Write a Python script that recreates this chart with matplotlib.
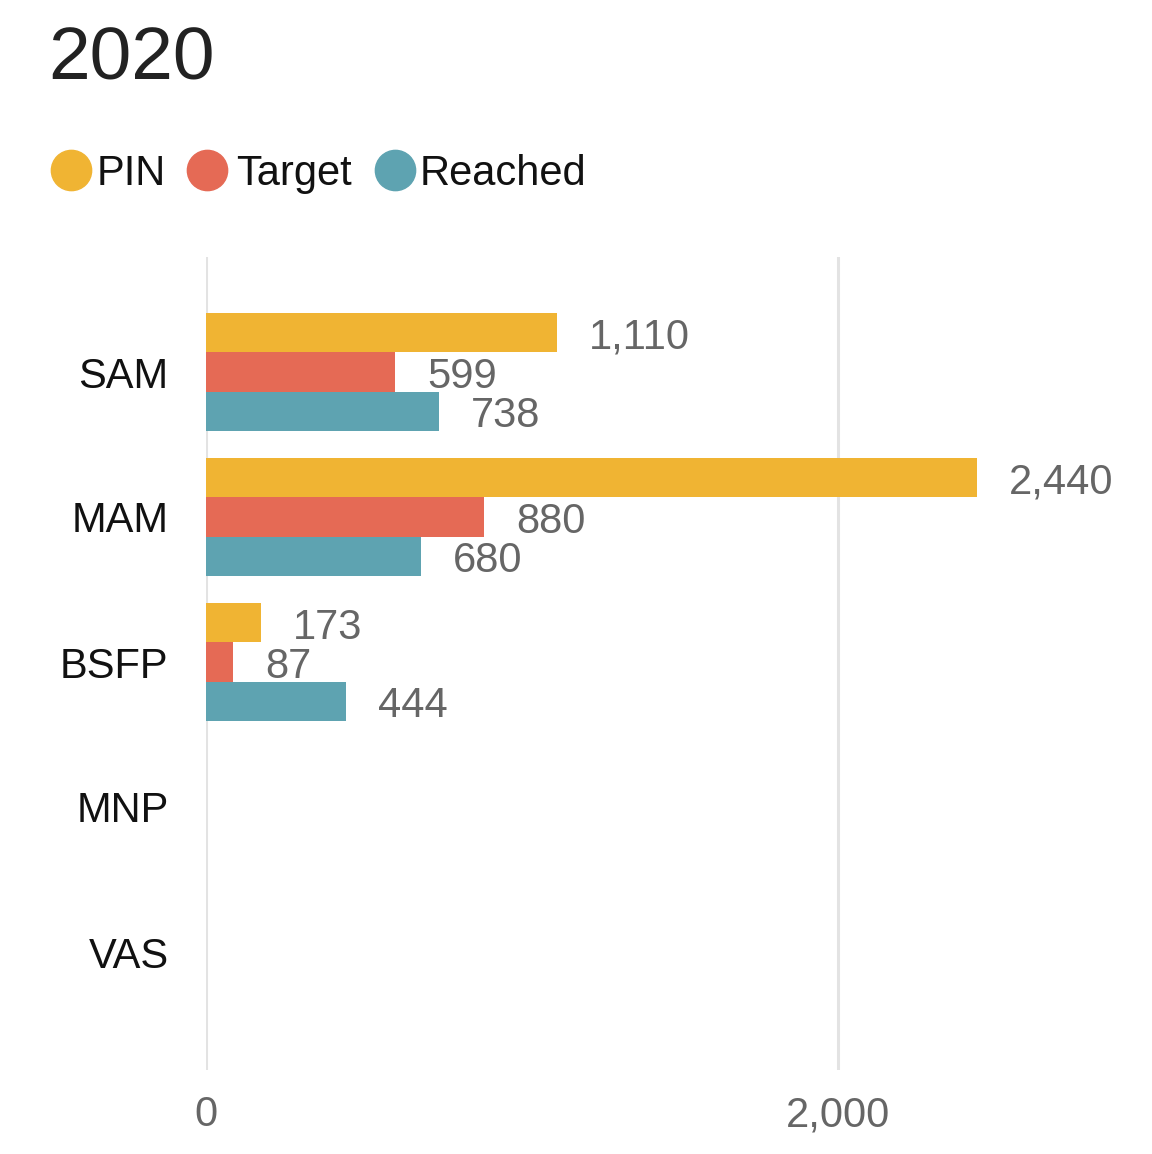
#libraries
import numpy as np
import matplotlib
matplotlib.use('Agg')
import matplotlib.pyplot as plt
from matplotlib.lines import Line2D

plt.rcParams['font.family'] = ['Liberation Sans', 'DejaVu Sans']

#data
categories = ['SAM', 'MAM', 'BSFP', 'MNP', 'VAS']
series = ['PIN', 'Target', 'Reached']
pin = [1110, 2440, 173, np.nan, np.nan]
target = [599, 880, 87, np.nan, np.nan]
reached = [738, 680, 444, np.nan, np.nan]
title = '2020'
xticks = [0, 2000]

colors = ['#F0B433', '#E56A55', '#5EA3B1']
W, H = 1152, 1154

def fx(x):
    return x / W

def fy(y):
    return 1 - y / H

fig = plt.figure(figsize=(W / 100, H / 100), dpi=100)
ax = fig.add_axes([fx(206), fy(1070), (1130 - 206) / W, (1070 - 257) / H])

y = np.arange(len(categories))
bh = 0.269
offsets = [-bh, 0, bh]
for vals, off, col in zip([pin, target, reached], offsets, colors):
    v = np.array(vals, dtype=float)
    mask = ~np.isnan(v)
    ax.barh(y[mask] + off, v[mask], height=bh, color=col, zorder=3)
    for yi, vi in zip(y[mask], v[mask]):
        ax.annotate(f'{int(vi):,}', (vi, yi + off), textcoords='offset points',
                    xytext=(23, -3.5), ha='left', va='center',
                    fontsize=30, color='#666666')

ax.set_xlim(0, 924 / 0.316)
ax.set_ylim(4 + 118 / 145, -115 / 145)
ax.set_yticks(y)
ax.set_yticklabels(categories, fontsize=30, color='#111111')
ax.set_xticks(xticks)
ax.set_xticklabels([f'{t:,}' for t in xticks], fontsize=30, color='#666666')
ax.tick_params(axis='both', length=0)
ax.tick_params(axis='x', pad=18)
ax.tick_params(axis='y', pad=27)
ax.grid(axis='x', color='#E3E3E3', linewidth=2.2, zorder=0)
for s in ax.spines.values():
    s.set_visible(False)

#title
fig.text(fx(48), fy(80), title, fontsize=54, color='#222222', ha='left', va='baseline')

#legend
leg_x = [71, 207, 395]
txt_x = [97, 236, 420]
for lx, tx, name, col in zip(leg_x, txt_x, series, colors):
    fig.add_artist(Line2D([fx(lx)], [fy(170)], transform=fig.transFigure,
                          marker='o', markersize=29, color=col, linestyle='none'))
    fig.text(fx(tx), fy(185), name, fontsize=30, color='#111111', ha='left', va='baseline')

plt.savefig('out.png', dpi=100)
